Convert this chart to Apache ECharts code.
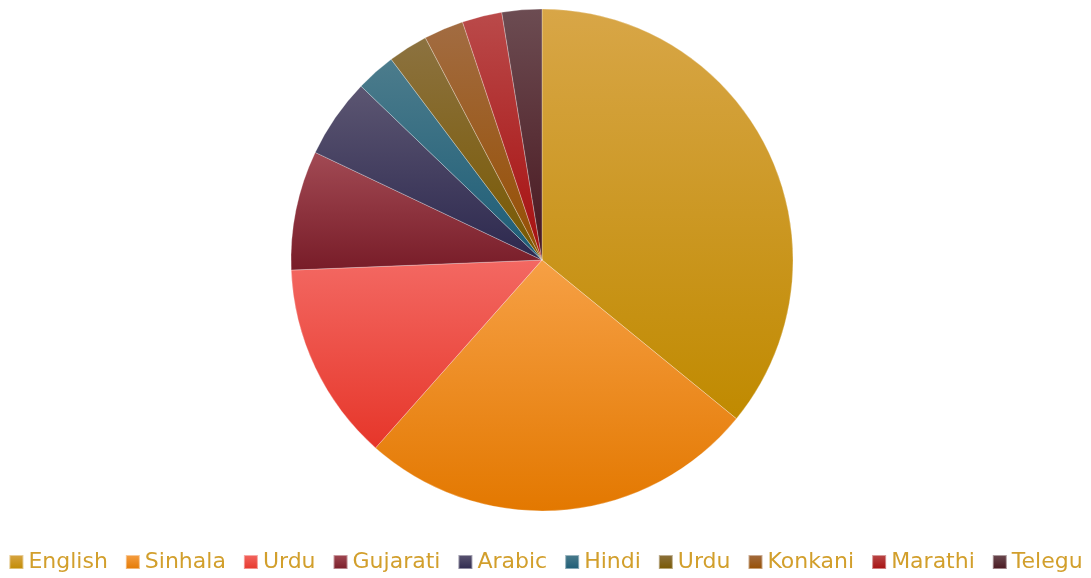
<!DOCTYPE html>
<html>
<head>
<meta charset="utf-8">
<script src="https://cdn.jsdelivr.net/npm/echarts@6/dist/echarts.min.js"></script>
<style>
  html, body { margin: 0; padding: 0; background: #fff; }
  #chart { width: 1091px; height: 578px; }
</style>
</head>
<body>
<div id="chart"></div>
<script>
var languages = ['English', 'Sinhala', 'Urdu', 'Gujarati', 'Arabic', 'Hindi', 'Urdu', 'Konkani', 'Marathi', 'Telegu'];
var speakers = [14, 10, 5, 3, 2, 1, 1, 1, 1, 1];
// top / bottom colour of each slice's gradient
var topColors = ['#d8a647', '#f6a045', '#f36862', '#a24a54', '#5c5672', '#4c7c8c', '#8c7240', '#a26c42', '#ba4a4a', '#6c4c52'];
var bottomColors = ['#c08a00', '#e37800', '#e6362a', '#781c28', '#2c284e', '#1c5c76', '#785800', '#964e00', '#a60e0e', '#48161e'];

var chart = echarts.init(document.getElementById('chart'));

// legend names must be unique, so the second Urdu gets an invisible suffix
var names = languages.map(function (n, i) {
	return languages.indexOf(n) === i ? n : n + '\u200b';
});

var pieData = speakers.map(function (v, i) {
	return {
		value: v,
		name: names[i],
		itemStyle: {
			color: new echarts.graphic.LinearGradient(0, 0, 0, 1, [
				{ offset: 0, color: topColors[i] },
				{ offset: 1, color: bottomColors[i] }
			])
		}
	};
});

chart.setOption({
	animation: false,
	legend: {
		bottom: 0,
		left: 'center',
		itemWidth: 14,
		itemHeight: 14,
		itemGap: 17,
		icon: 'rect',
		textStyle: {
			fontFamily: 'DejaVu Sans',
			fontSize: 22,
			color: '#d29f2c'
		},
		data: names
	},
	series: [{
		type: 'pie',
		center: [542, 260],
		radius: 251,
		startAngle: 90,
		label: { show: false },
		labelLine: { show: false },
		itemStyle: {
			borderColor: 'rgba(255,255,255,0.45)',
			borderWidth: 0.6
		},
		data: pieData
	}]
});
</script>
</body>
</html>
